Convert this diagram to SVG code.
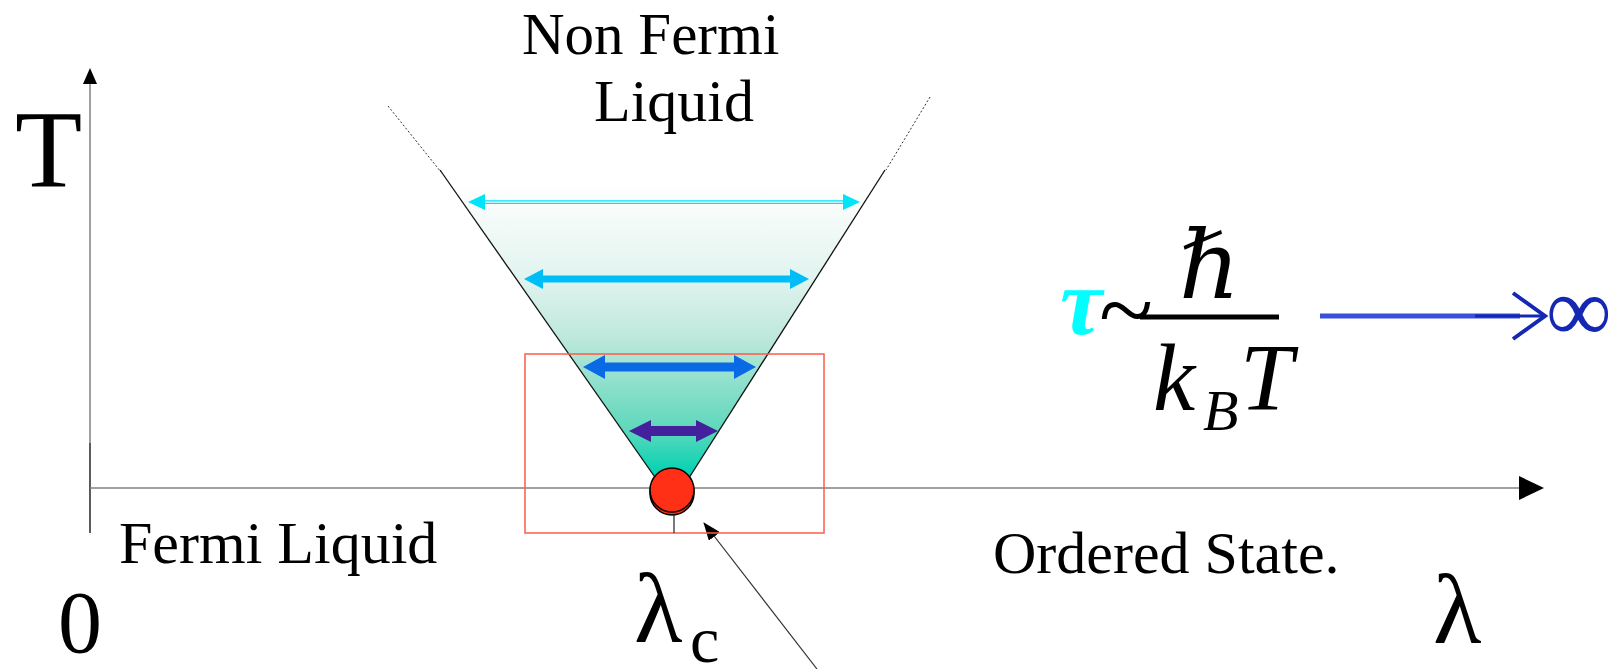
<svg xmlns="http://www.w3.org/2000/svg" width="1617" height="669" viewBox="0 0 1617 669">
<style>
.t{font-family:"Liberation Serif","DejaVu Serif",serif;fill:#000}
.it{font-style:italic}
.axis{stroke:#808080;stroke-width:1.5;fill:none}
.edge{stroke:#111;stroke-width:1.3;fill:none}
.dot{stroke:#333;stroke-width:1;stroke-dasharray:2 2;fill:none}
</style>
<defs>
<linearGradient id="cone" gradientUnits="userSpaceOnUse" x1="0" y1="183" x2="0" y2="490">
<stop offset="0" stop-color="#ffffff"/>
<stop offset="0.3" stop-color="#e2f4ef"/>
<stop offset="0.5" stop-color="#bfe8dc"/>
<stop offset="0.8" stop-color="#5fd8bc"/>
<stop offset="0.95" stop-color="#00d2b2"/>
</linearGradient>
<marker id="ptr" markerWidth="18" markerHeight="14" refX="17" refY="7" orient="auto" markerUnits="userSpaceOnUse">
<path d="M0,0 L18,7 L0,14 Z" fill="#000"/>
</marker>
</defs>

<g id="cone-region">
<polygon points="449,183 877,183 673,503" fill="url(#cone)"/>
<line class="dot" x1="388" y1="106" x2="441" y2="172"/>
<line class="dot" x1="930" y1="97" x2="886" y2="170"/>
<line class="edge" x1="440" y1="170" x2="673" y2="503"/>
<line class="edge" x1="885" y1="170" x2="673" y2="503"/>
</g>

<g id="arrow-1">
<line x1="482" y1="200.8" x2="845" y2="200.8" stroke="#00dff8" stroke-width="1.2"/>
<line x1="482" y1="203.3" x2="845" y2="203.3" stroke="#00dff8" stroke-width="1.2"/>
<polygon points="468,202 485,194 485,210" fill="#00e4fa"/>
<polygon points="860,202 843,194 843,210" fill="#00e4fa"/>
</g>
<g id="arrow-2">
<polygon points="524,279 543,269 543,275.5 790,275.5 790,269 809,279 790,289 790,282.5 543,282.5 543,289" fill="#00bdf8"/>
</g>
<g id="arrow-3">
<polygon points="583,367 605,355 605,362.5 734,362.5 734,355 756,367 734,379 734,371.5 605,371.5 605,379" fill="#0a6ae6"/>
</g>
<g id="arrow-4">
<polygon points="629,431 651,420 651,426 696,426 696,420 718,431 696,442 696,436 651,436 651,442" fill="#44209c"/>
</g>

<g id="connectors">
<line class="axis" x1="90" y1="82" x2="90" y2="533"/>
<polygon points="90,68 83,84 97,84" fill="#000"/>
<line x1="90" y1="443" x2="90" y2="533" stroke="#444" stroke-width="1.5"/>
<line class="axis" x1="90" y1="488" x2="1521" y2="488"/>
<polygon points="1544,488 1519,476 1519,500" fill="#000"/>
<line x1="817" y1="669" x2="704" y2="523" stroke="#333" stroke-width="1.2" marker-end="url(#ptr)"/>
</g>

<g id="critical-box">
<rect x="525" y="354" width="299" height="179" fill="none" stroke="#ff5a4a" stroke-width="1.5"/>
<line x1="674" y1="512" x2="674" y2="533" stroke="#333" stroke-width="1.3"/>
</g>

<g id="critical-point">
<circle cx="672" cy="493" r="22" fill="#ff3015" stroke="#000" stroke-width="1.5"/>
<circle cx="672" cy="490" r="22" fill="#ff3015" stroke="#000" stroke-width="1.5"/>
</g>

<g id="labels">
<text class="t" x="522" y="54" font-size="59">Non Fermi</text>
<text class="t" x="594" y="121" font-size="60">Liquid</text>
<text class="t" x="15" y="187" font-size="110">T</text>
<text class="t" x="119" y="563" font-size="60">Fermi Liquid</text>
<text class="t" x="993" y="573" font-size="60">Ordered State.</text>
<text class="t" x="58" y="652" font-size="88">0</text>
<text class="t" x="634" y="642" font-size="100">λ</text>
<text class="t" x="690" y="662" font-size="66">c</text>
<text class="t" x="1433" y="643" font-size="100">λ</text>
</g>

<g id="formula">
<text class="t it" x="1060" y="334" font-size="95" font-weight="bold" style="fill:#00ffff">τ</text>
<text class="t" x="1099" y="343" font-size="100">~</text>
<rect x="1140" y="314.5" width="139" height="5" fill="#000"/>
<text class="t it" x="1179" y="298" font-size="95">ℏ</text>
<text class="t it" x="1153" y="410" font-size="95">k</text>
<text class="t it" x="1203" y="430" font-size="58">B</text>
<text class="t it" x="1240" y="410" font-size="95">T</text>
</g>

<g id="limit">
<line x1="1320" y1="316" x2="1520" y2="316" stroke="#3a50d8" stroke-width="5"/>
<line x1="1475" y1="316" x2="1543" y2="316" stroke="#1428b4" stroke-width="3"/>
<polyline points="1513,293 1545,316 1513,339" fill="none" stroke="#1428b4" stroke-width="4"/>
<text class="t" x="1546" y="341" font-size="92" style="fill:#1428b4">∞</text>
</g>
</svg>
